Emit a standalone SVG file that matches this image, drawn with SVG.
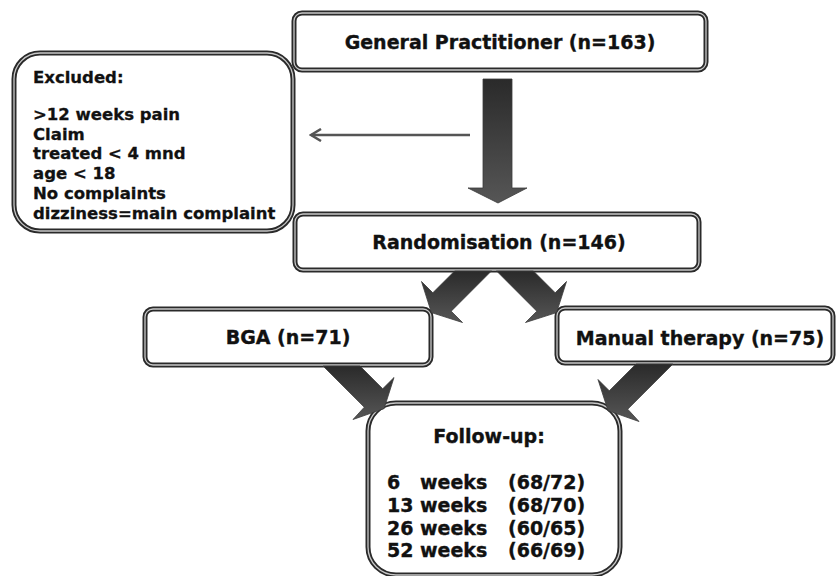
<svg xmlns="http://www.w3.org/2000/svg" width="836" height="576" viewBox="0 0 836 576">
<defs>
<linearGradient id="g" x1="0" y1="0" x2="0" y2="1">
<stop offset="0" stop-color="#2a2a2a"/>
<stop offset="1" stop-color="#565656"/>
</linearGradient>
<marker id="chev" viewBox="0 0 13 14" refX="11" refY="7" markerWidth="13" markerHeight="14" markerUnits="userSpaceOnUse" orient="auto">
<polyline points="1,1 11,7 1,13" fill="none" stroke="#555" stroke-width="2.5"/>
</marker>
</defs>
<style>
.bo{fill:#fff;stroke:#2a2a2a;stroke-width:5}
.bi{fill:none;stroke:#c8c8c8;stroke-width:1.3}
.t{font-family:"DejaVu Sans",Verdana,sans-serif;font-weight:bold;font-size:19px;fill:#111;stroke:#111;stroke-width:0.35}
.ts{font-family:"DejaVu Sans",Verdana,sans-serif;font-weight:bold;font-size:16.5px;fill:#111;stroke:#111;stroke-width:0.3}
.ar{fill:url(#g);stroke:#3a3a3a;stroke-width:0.8}
</style>
<rect width="836" height="576" fill="#fff"/>

<g id="gp">
<rect class="bo" x="294" y="13" width="412" height="57" rx="8"/>
<rect class="bi" x="294" y="13" width="412" height="57" rx="8"/>
<text class="t" x="500" y="49" text-anchor="middle">General Practitioner (n=163)</text>
</g>

<g id="excluded">
<rect class="bo" x="14" y="53" width="279" height="178" rx="26"/>
<rect class="bi" x="14" y="53" width="279" height="178" rx="26"/>
<text class="ts" x="33" y="83">Excluded:</text>
<text class="ts" x="33" y="120">&gt;12 weeks pain</text>
<text class="ts" x="33" y="139.7">Claim</text>
<text class="ts" x="33" y="159.4">treated &lt; 4 mnd</text>
<text class="ts" x="33" y="179.1">age &lt; 18</text>
<text class="ts" x="33" y="198.8">No complaints</text>
<text class="ts" x="33" y="218.5">dizziness=main complaint</text>
</g>

<g id="randomisation">
<rect class="bo" x="295" y="214" width="404" height="56" rx="8"/>
<rect class="bi" x="295" y="214" width="404" height="56" rx="8"/>
<text class="t" x="499" y="249" text-anchor="middle">Randomisation (n=146)</text>
</g>

<g id="bga">
<rect class="bo" x="145" y="309" width="286" height="56" rx="8"/>
<rect class="bi" x="145" y="309" width="286" height="56" rx="8"/>
<text class="t" x="288" y="344" text-anchor="middle">BGA (n=71)</text>
</g>

<g id="manual">
<rect class="bo" x="557" y="308" width="276" height="55" rx="8"/>
<rect class="bi" x="557" y="308" width="276" height="55" rx="8"/>
<text class="t" x="700" y="345" text-anchor="middle">Manual therapy (n=75)</text>
</g>

<g id="followup">
<rect class="bo" x="368" y="403" width="252" height="172" rx="28"/>
<rect class="bi" x="368" y="403" width="252" height="172" rx="28"/>
<text class="t" x="489" y="443" text-anchor="middle">Follow-up:</text>
<text class="t" y="489"><tspan x="387">6</tspan><tspan x="420">weeks</tspan><tspan x="508">(68/72)</tspan></text>
<text class="t" y="512"><tspan x="387">13</tspan><tspan x="420">weeks</tspan><tspan x="508">(68/70)</tspan></text>
<text class="t" y="535"><tspan x="387">26</tspan><tspan x="420">weeks</tspan><tspan x="508">(60/65)</tspan></text>
<text class="t" y="557"><tspan x="387">52</tspan><tspan x="420">weeks</tspan><tspan x="508">(66/69)</tspan></text>
</g>

<g id="connectors">
<polygon class="ar" points="483,79 512,79 512,188 527,188 498,203 468,188 483,188"/>
<line x1="470" y1="135" x2="311" y2="135" stroke="#555" stroke-width="2.5" marker-end="url(#chev)"/>
<polygon class="ar" points="491.4,271 451.2,311.2 462.5,322.5 431.4,312.6 421.5,281.5 432.8,292.8 454.6,271"/>
<polygon class="ar" points="496.6,271 536.8,311.2 525.5,322.5 556.6,312.6 566.5,281.5 555.2,292.8 533.4,271"/>
<polygon class="ar" points="323,366 360,366 382.7,388.8 394,377.5 384.1,408.6 353,419.5 364.3,407.2"/>
<polygon class="ar" points="673,364 636,364 609.3,390.8 598,379.5 608,410.6 639,421.5 627.7,409.2"/>
</g>
</svg>
